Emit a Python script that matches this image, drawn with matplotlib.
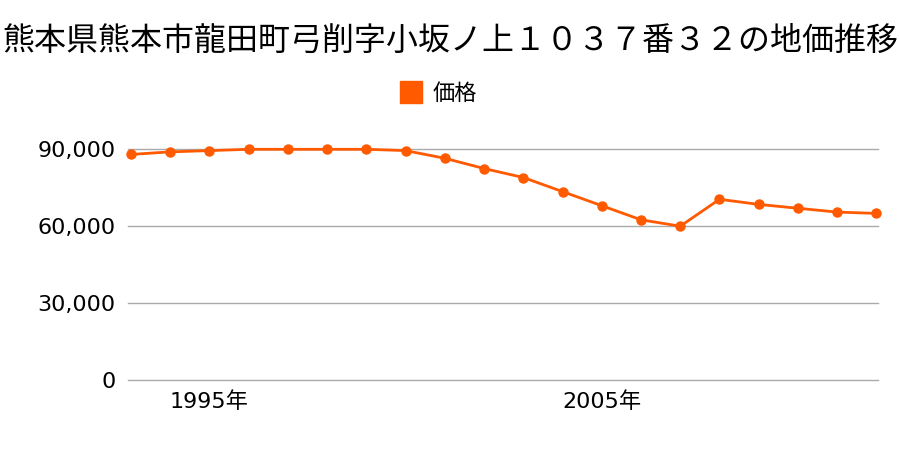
import matplotlib
matplotlib.use('Agg')
import matplotlib.pyplot as plt
from matplotlib.lines import Line2D

plt.rcParams['font.family'] = ['Noto Sans CJK JP', 'DejaVu Sans']

# data
years = list(range(1993, 2013))
prices = [88000, 89000, 89500, 90000, 90000, 90000, 90000, 89500, 86500, 82500,
          79000, 73500, 68000, 62500, 60000, 70500, 68500, 67000, 65500, 65000]
yticks = [0, 30000, 60000, 90000]
xtick_years = [1995, 2005]
title = '熊本県熊本市龍田町弓削字小坂ノ上１０３７番３２の地価推移'
series_name = '価格'
color = '#ff5a00'

fig = plt.figure(figsize=(9, 4.5), dpi=100)
ax = fig.add_axes([0.142, 0.1556, 0.834, 0.5126])

ax.plot(years, prices, color=color, lw=2, marker='o', ms=6.5, clip_on=False, zorder=3)

ax.set_xlim(1992.92, 2012.05)
ax.set_ylim(0, 90000)
ax.set_yticks(yticks)
ax.set_yticklabels([f'{v:,}' for v in yticks], fontsize=16,
                   family=['DejaVu Sans', 'Noto Sans CJK JP'])
ax.set_xticks(xtick_years)
ax.set_xticklabels([f'{y}年' for y in xtick_years], fontsize=16,
                   family=['DejaVu Sans', 'Noto Sans CJK JP'])
ax.tick_params(length=0)
ax.tick_params(axis='x', pad=8)
ax.tick_params(axis='y', pad=9)
ax.grid(axis='y', color='#aaaaaa', lw=1)
for gl in ax.get_ygridlines():
    gl.set_clip_on(False)
ax.set_axisbelow(True)
for s in ax.spines.values():
    s.set_visible(False)

fig.text(0.5, 0.91, title, ha='center', va='center', fontsize=23)
handle = Line2D([], [], color=color, marker='s', ls='none', ms=16)
fig.legend([handle], [series_name], loc='center', bbox_to_anchor=(0.486, 0.792),
           frameon=False, fontsize=16, handletextpad=0.4, handlelength=1.2)

fig.savefig('out.png')
